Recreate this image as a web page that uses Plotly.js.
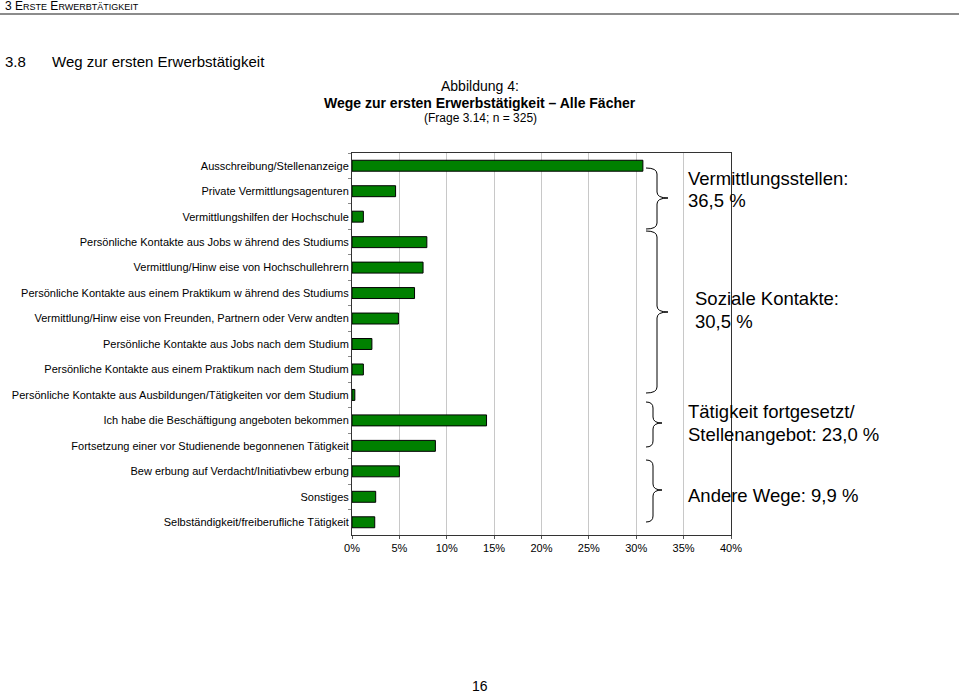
<!DOCTYPE html>
<html>
<head>
<meta charset="utf-8">
<script src="https://cdn.plot.ly/plotly-3.0.1.min.js"></script>
<style>
  body { margin: 0; background: #fff; }
  #plot { width: 959px; height: 695px; }
</style>
</head>
<body>
<div id="plot"></div>
<script>
// Wege zur ersten Erwerbstätigkeit - Anteile in %
var categories = [
  'Ausschreibung/Stellenanzeige',
  'Private Vermittlungsagenturen',
  'Vermittlungshilfen der Hochschule',
  'Persönliche Kontakte aus Jobs w ährend des Studiums',
  'Vermittlung/Hinw eise von Hochschullehrern',
  'Persönliche Kontakte aus einem Praktikum w ährend des Studiums',
  'Vermittlung/Hinw eise von Freunden, Partnern oder Verw andten',
  'Persönliche Kontakte aus Jobs nach dem Studium',
  'Persönliche Kontakte aus einem Praktikum nach dem Studium',
  'Persönliche Kontakte aus Ausbildungen/Tätigkeiten vor dem Studium',
  'Ich habe die Beschäftigung angeboten bekommen',
  'Fortsetzung einer vor Studienende begonnenen Tätigkeit',
  'Bew erbung auf Verdacht/Initiativbew erbung',
  'Sonstiges',
  'Selbständigkeit/freiberufliche Tätigkeit'
];
var shares = [30.7, 4.6, 1.2, 7.9, 7.5, 6.6, 4.9, 2.1, 1.2, 0.3, 14.2, 8.8, 5.0, 2.5, 2.4];

var xTickVals = [0, 5, 10, 15, 20, 25, 30, 35, 40];
var xTickText = ['0%', '5%', '10%', '15%', '20%', '25%', '30%', '35%', '40%'];

// group labels to the right of the braces
var groupLines = [
  ['Vermittlungsstellen:', '36,5 %'],
  ['Soziale Kontakte:', '30,5 %'],
  ['Tätigkeit fortgesetzt/', 'Stellenangebot: 23,0 %'],
  ['Andere Wege: 9,9 %']
];

// plot box in pixels
var W = 959, H = 695;
var L = 352, R = 731, T = 153, B = 535;

function px(x) { return (x - L) / (R - L); }
function py(y) { return (B - y) / (B - T); }

// "}" brace as a path in paper coordinates
function brace(top, bot, mid, x0, x1, x2) {
  var r = 6;
  var p = [
    'M', px(x0), py(top),
    'Q', px(x1), py(top), px(x1), py(top + r),
    'L', px(x1), py(mid - r),
    'Q', px(x1), py(mid), px(x2), py(mid),
    'Q', px(x1), py(mid), px(x1), py(mid + r),
    'L', px(x1), py(bot - r),
    'Q', px(x1), py(bot), px(x0), py(bot)
  ];
  return {
    type: 'path', xref: 'paper', yref: 'paper',
    path: p.join(' '),
    line: { color: '#000', width: 1 }
  };
}

var braces = [
  brace(168, 229, 198, 646, 657, 668),
  brace(231, 393, 312, 646, 657, 668),
  brace(402, 447, 423, 646, 653, 662),
  brace(460, 522, 490, 646, 653, 662)
];

var shapes = braces.concat([
  { type: 'line', xref: 'paper', yref: 'paper',
    x0: px(0), x1: px(W), y0: py(14), y1: py(14),
    line: { color: '#8c8c8c', width: 2 } }
]);

var txt = function (x, y, text, size, anchor) {
  return {
    xref: 'paper', yref: 'paper', x: px(x), y: py(y),
    text: text, showarrow: false,
    xanchor: anchor || 'left', yanchor: 'middle',
    font: { family: 'Liberation Sans, Arial, sans-serif', size: size, color: '#000' }
  };
};

var sc = function (s) { return '<span style="font-size:9px">' + s + '</span>'; };

var annotations = [
  txt(3, 6, '3 E' + sc('RSTE') + ' E' + sc('RWERBTÄTIGKEIT'), 12),
  txt(3, 61, '3.8', 15),
  txt(50, 61, 'Weg zur ersten Erwerbstätigkeit', 15),
  txt(480, 86, 'Abbildung 4:', 14, 'center'),
  txt(480, 103, '<b>Wege zur ersten Erwerbstätigkeit – Alle Fächer</b>', 14, 'center'),
  txt(480, 118, '(Frage 3.14; n = 325)', 12, 'center'),
  txt(480, 686, '16', 14, 'center'),
  txt(686, 178, groupLines[0][0], 18.5),
  txt(686, 200, groupLines[0][1], 18.5),
  txt(693, 298, groupLines[1][0], 18.5),
  txt(693, 321, groupLines[1][1], 18.5),
  txt(686, 411, groupLines[2][0], 18.5),
  txt(686, 434, groupLines[2][1], 18.5),
  txt(686, 495, groupLines[3][0], 18.5)
];

var data = [{
  type: 'bar',
  orientation: 'h',
  x: shares,
  y: categories,
  marker: { color: '#008000', line: { color: '#000', width: 1 } },
  hoverinfo: 'x+y'
}];

var layout = {
  width: W,
  height: H,
  margin: { l: L, r: W - R, t: T, b: H - B, pad: 0 },
  paper_bgcolor: '#fff',
  plot_bgcolor: '#fff',
  showlegend: false,
  bargap: 0.57,
  font: { family: 'Liberation Sans, Arial, sans-serif', size: 11, color: '#000' },
  xaxis: {
    range: [0, 40],
    tickvals: xTickVals,
    ticktext: xTickText,
    showgrid: true,
    gridcolor: '#c8c8c8',
    gridwidth: 1,
    zeroline: false,
    showline: true,
    linecolor: '#333',
    linewidth: 1,
    mirror: true,
    ticks: 'outside',
    ticklen: 3,
    tickcolor: '#555',
    tickfont: { size: 11 },
    fixedrange: true
  },
  yaxis: {
    type: 'category',
    autorange: 'reversed',
    showgrid: false,
    zeroline: false,
    showline: true,
    linecolor: '#333',
    linewidth: 1,
    mirror: true,
    ticks: 'outside',
    tickson: 'boundaries',
    ticklen: 3,
    tickcolor: '#888',
    tickfont: { size: 11 },
    fixedrange: true
  },
  shapes: shapes,
  annotations: annotations
};

Plotly.newPlot('plot', data, layout, { displayModeBar: false, staticPlot: true });
</script>
</body>
</html>
